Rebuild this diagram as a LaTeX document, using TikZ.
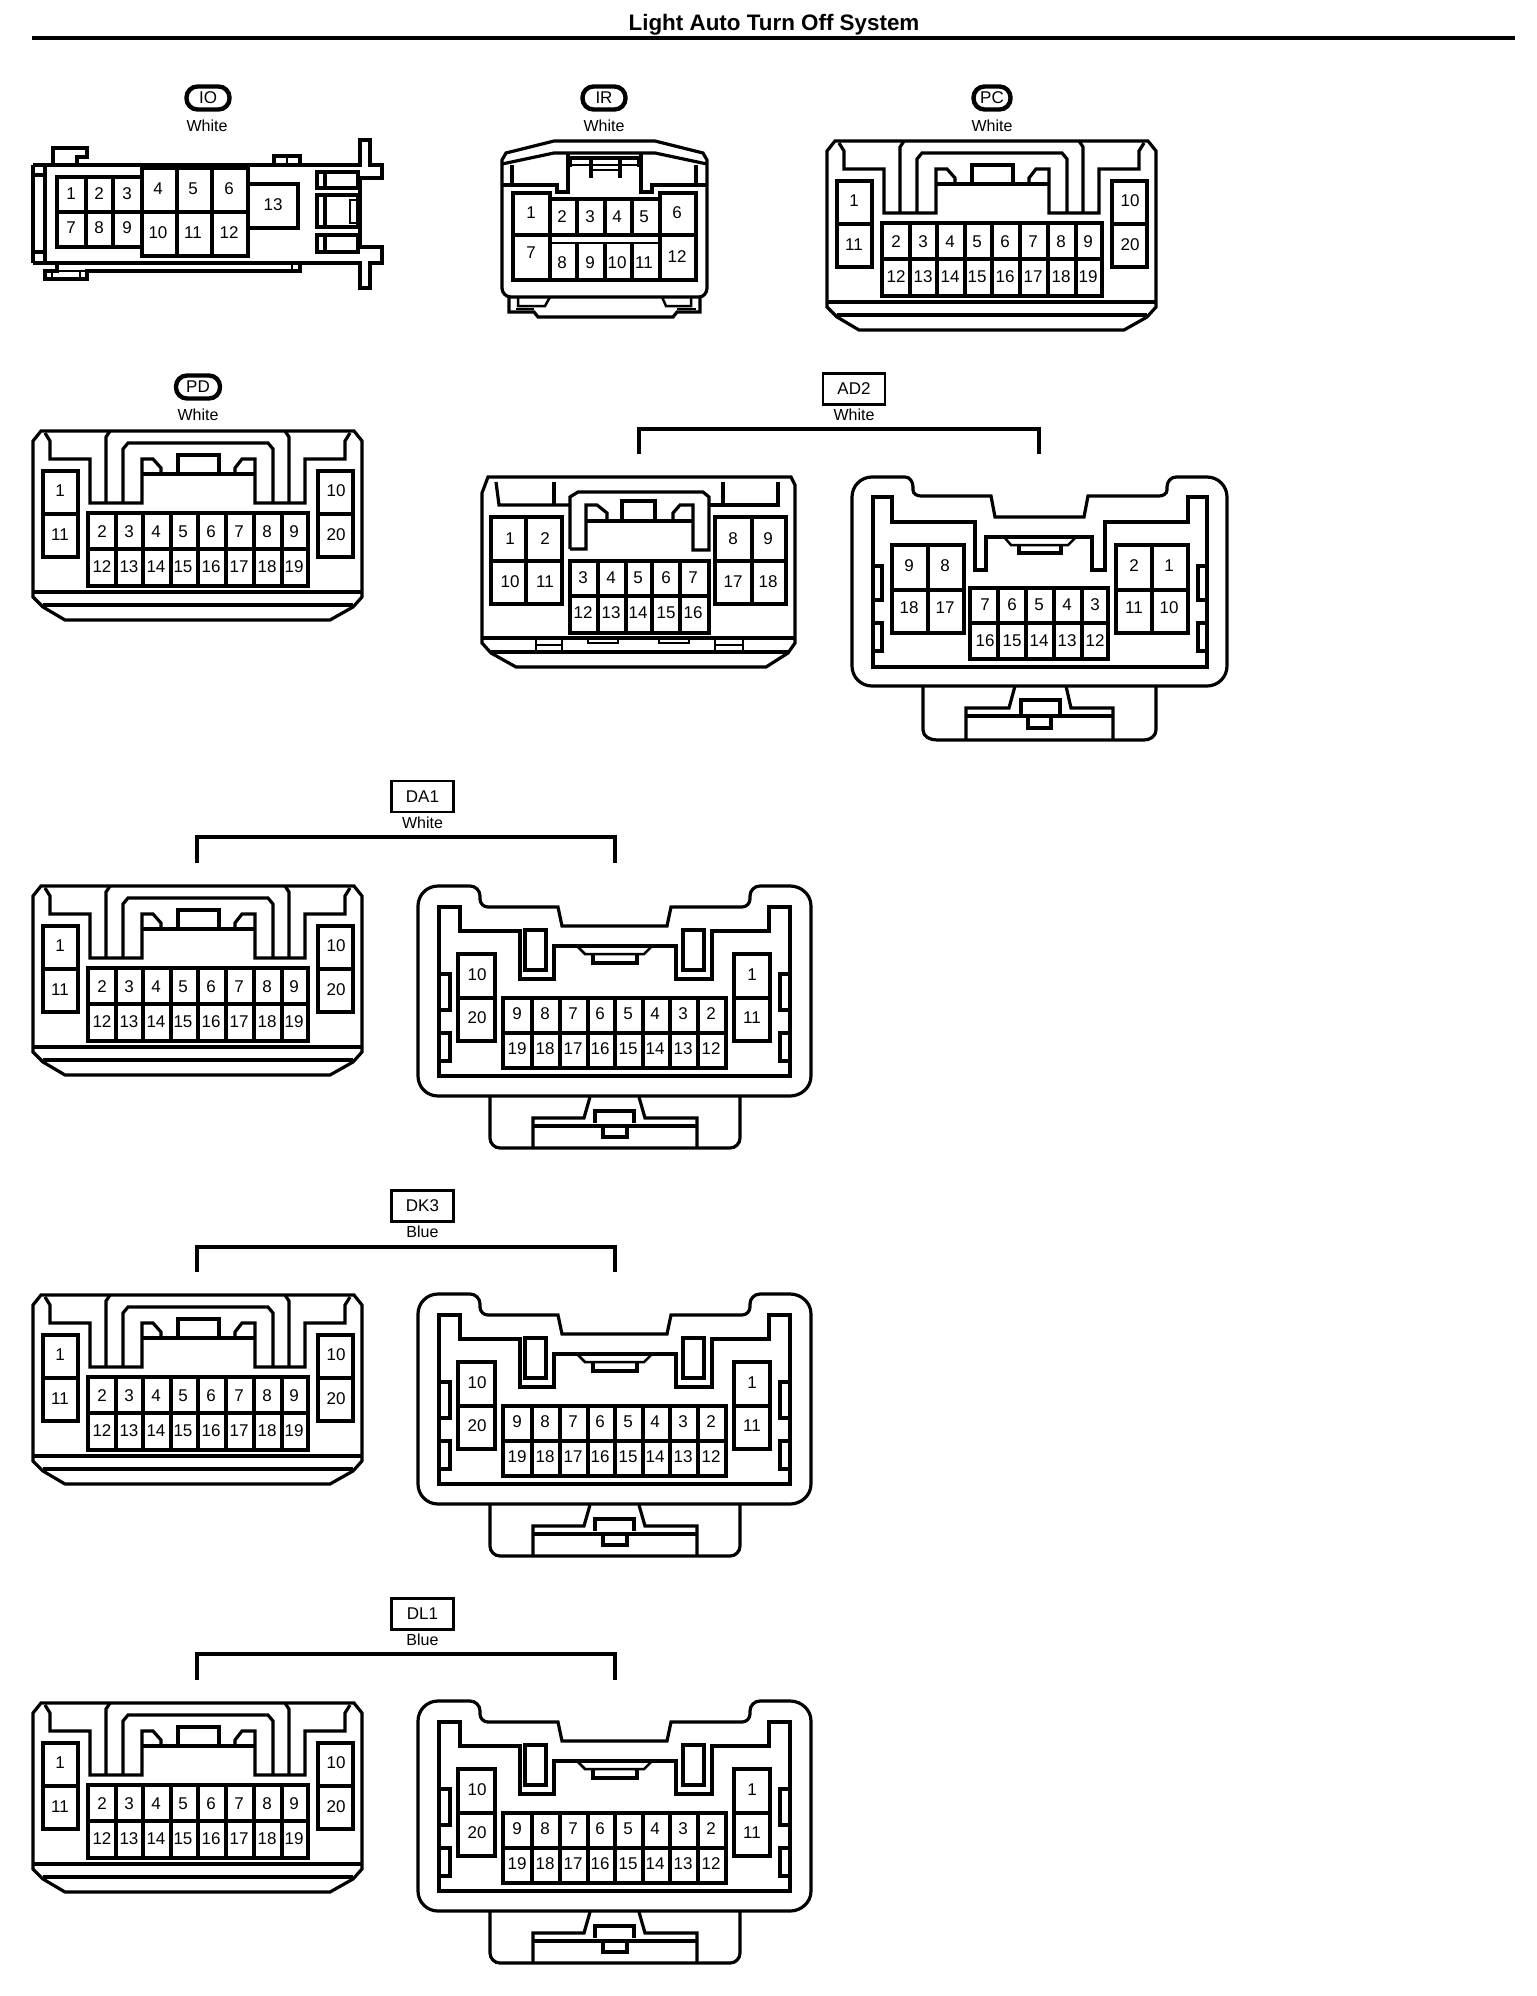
\documentclass[tikz,border=0pt]{standalone}
\usepackage{fontspec}
\setmainfont{Liberation Sans}
\tikzset{
  ln/.style={draw=black,line width=3.2pt,line join=miter},
  thn/.style={draw=black,line width=2.5pt},
  numt/.style={inner sep=0pt,font=\fontsize{17}{17}\selectfont},
  colt/.style={inner sep=0pt,font=\fontsize{16}{16}\selectfont},
  pill/.style={draw=black,line width=4.4pt,rounded corners=11pt,minimum height=23pt,inner sep=0pt,font=\fontsize{17}{17}\selectfont},
  tagbox/.style={draw=black,line width=2.8pt,minimum width=62pt,minimum height=31pt,inner sep=0pt,font=\fontsize{17}{17}\selectfont},
  brk/.style={draw=black,line width=3.6pt,line join=miter}
}
\newcommand{\nm}[3]{\node[numt] (\pfx-#3) at (#1,#2) {#3};}
% connector type A (origin: PD position)
\newcommand{\conA}[3]{\def\pfx{#1}\begin{scope}[shift={(#2,#3)}]
 \draw[ln] (33,441)--(41,431)--(354,431)--(362,441)--(362,597)--(353,607)--(330,620)--(65,620)--(43,607)--(33,597)--cycle;
 \draw[ln] (33,592)--(362,592);
 \draw[ln] (43,605)--(353,605);
 \draw[ln] (45,433)--(50,441)--(50,459)--(90,459)--(90,503)--(142,503)--(142,459)--(153,459)--(161,468)--(161,474);
 \draw[ln] (350,433)--(345,441)--(345,459)--(305,459)--(305,503)--(255,503)--(255,459)--(242,459)--(235,468)--(235,474);
 \draw[ln] (142,474)--(255,474);
 \draw[ln] (178,474)--(178,455)--(219,455)--(219,474);
 \draw[ln] (123,503)--(123,449)--(128,443)--(268,443)--(273,449)--(273,503);
 \draw[ln] (106,503)--(106,437)--(110,431);
 \draw[ln] (289,503)--(289,437)--(285,431);
 \draw[ln] (43,471) rectangle (78,557); \draw[ln] (43,514)--(78,514);
 \draw[ln] (318,471) rectangle (353,557); \draw[ln] (318,514)--(353,514);
 \draw[ln] (88,513) rectangle (308,586); \draw[ln] (88,549)--(308,549);
 \foreach \x in {116,143,171,198,226,254,282} \draw[ln] (\x,513)--(\x,586);
 \nm{60}{491}{1} \nm{60}{535}{11} \nm{336}{491}{10} \nm{336}{535}{20}
 \foreach \t/\x in {2/102,3/129,4/156,5/183,6/211,7/239,8/267,9/294} {\nm{\x}{532}{\t}}
 \foreach \t/\x in {12/102,13/129,14/156,15/183,16/211,17/239,18/267,19/294} {\nm{\x}{567}{\t}}
\end{scope}}
% connector type B (origin: DA1 right position)
\newcommand{\conB}[3]{\def\pfx{#1}\begin{scope}[shift={(#2,#3)}]
 \draw[ln] (418,905) to[out=90,in=180] (438,885)--(470,885) to[out=0,in=90] (480,895)--(480,898) to[out=270,in=180] (488,906)--(558,906)--(562,925)--(667,925)--(671,906)--(742,906) to[out=0,in=270] (750,898)--(750,895) to[out=90,in=180] (760,885)--(790,885) to[out=0,in=90] (811,905)--(811,1075) to[out=270,in=0] (790,1095)--(438,1095) to[out=180,in=270] (418,1075)--cycle;
 \draw[ln] (439,906)--(460,906)--(460,930)--(520,930)--(520,978)--(554,978)--(554,945)--(676,945)--(676,978)--(712,978)--(712,930)--(769,930)--(769,906)--(790,906)--(790,1075)--(439,1075)--cycle;
 \draw[ln] (525,929) rectangle (546,969);
 \draw[ln] (683,929) rectangle (704,969);
 \draw[thn] (577,945)--(585,953)--(644,953)--(652,945);
 \draw[ln] (593,953)--(593,962)--(637,962)--(637,953);
 \draw[ln] (439,973)--(450,973)--(450,1009)--(439,1009);
 \draw[ln] (439,1032)--(450,1032)--(450,1060)--(439,1060);
 \draw[ln] (790,973)--(780,973)--(780,1009)--(790,1009);
 \draw[ln] (790,1032)--(780,1032)--(780,1060)--(790,1060);
 \draw[ln] (458,953) rectangle (495,1040); \draw[ln] (458,997)--(495,997);
 \draw[ln] (734,953) rectangle (770,1040); \draw[ln] (734,997)--(770,997);
 \draw[ln] (503,997) rectangle (726,1067); \draw[ln] (503,1032)--(726,1032);
 \foreach \x in {532,560,588,615,643,670,698} \draw[ln] (\x,997)--(\x,1067);
 \nm{477}{974}{10} \nm{477}{1017}{20} \nm{752}{974}{1} \nm{752}{1017}{11}
 \foreach \t/\x in {9/517,8/545,7/573,6/600,5/628,4/655,3/683,2/711} {\nm{\x}{1013}{\t}}
 \foreach \t/\x in {19/517,18/545,17/573,16/600,15/628,14/655,13/683,12/711} {\nm{\x}{1048}{\t}}
 \draw[ln] (490,1095)--(490,1137) to[out=270,in=180] (500,1147)--(730,1147) to[out=0,in=270] (740,1137)--(740,1095);
 \draw[ln] (590,1096)--(584,1117)--(533,1117)--(533,1147);
 \draw[ln] (639,1096)--(645,1117)--(697,1117)--(697,1147);
 \draw[ln] (533,1125)--(697,1125);
 \draw[ln] (595,1122)--(595,1110)--(634,1110)--(634,1122);
 \draw[ln] (603,1125)--(603,1136)--(627,1136)--(627,1125);
\end{scope}}
\newcommand{\brkt}[7]{% name,xl,xr,ytop,ybot
 \coordinate (#1a) at (#2,#5); \coordinate (#1b) at (#2,#4);
 \coordinate (#1c) at (#3,#4); \coordinate (#1d) at (#3,#5);
 \draw[brk] (#1a)--(#1b)--(#1c)--(#1d);
 \node[tagbox] (#1tag) at (#6) {#1};
 \node[colt] (#1col) at ([yshift=-26pt]#1tag.center) {#7};}
\begin{document}
\begin{tikzpicture}[x=1pt,y=-1pt]
\useasboundingbox (0,0) rectangle (1536,1996);
\fill[white] (0,0) rectangle (1536,1996);
% title
\node[inner sep=0pt,font=\fontsize{22.4}{23}\selectfont\bfseries] (title) at (774,25) {Light Auto Turn Off System};
\coordinate (ruleL) at (32,38); \coordinate (ruleR) at (1515,38);
\draw[draw=black,line width=4.4pt] (ruleL)--(ruleR);
% IO
\node[pill,minimum width=43pt] (IOtag) at (208,98) {IO};
\node[colt] (IOcol) at (207,126) {White};
\def\pfx{io}
\draw[ln] (33,165)--(360,165)--(360,140)--(370,140)--(370,165)--(382,165)--(382,178)--(360,178)--(360,247)--(382,247)--(382,263)--(370,263)--(370,288)--(360,288)--(360,263)--(297,263);
\draw[ln] (297,263)--(33,263)--cycle;
\draw[ln] (33,165)--(33,263);
\draw[ln] (45,165)--(45,263);
\draw[ln] (33,175)--(45,175); \draw[ln] (33,252)--(45,252);
\draw[ln] (53,165)--(53,148)--(87,148)--(87,157)--(77,157)--(77,165);
\draw[ln] (274,165)--(274,156)--(300,156)--(300,165); \draw[thn] (287,156)--(287,165);
\draw[ln] (57,263)--(57,271)--(45,271)--(45,279)--(87,279)--(87,271)--(300,271)--(300,263);
\draw[thn] (57,271)--(87,271); \draw[thn] (52,271)--(52,279); \draw[thn] (80,271)--(80,279); \draw[thn] (292,263)--(292,271);
\draw[ln] (317,172) rectangle (358,188); \draw[ln] (325,172)--(325,188);
\draw[ln] (317,195) rectangle (358,227); \draw[ln] (325,195)--(325,227);
\draw[thn] (350,200) rectangle (357,223);
\draw[ln] (317,235) rectangle (358,252); \draw[ln] (325,235)--(325,252);
\draw[ln] (57,177) rectangle (142,247); \draw[ln] (57,212)--(142,212);
\draw[ln] (86,177)--(86,247); \draw[ln] (113,177)--(113,247);
\draw[ln] (142,168) rectangle (248,256); \draw[ln] (142,212)--(248,212);
\draw[ln] (177,168)--(177,256); \draw[ln] (212,168)--(212,256);
\draw[ln] (248,184) rectangle (298,228);
\foreach \t/\x/\y in {1/71/194,2/99/194,3/127/194,7/71/228,8/99/228,9/127/228,4/158/189,5/193/189,6/229/189,10/158/233,11/193/233,12/229/233,13/273/205} {\nm{\x}{\y}{\t}}
% IR
\node[pill,minimum width=43pt] (IRtag) at (604,98) {IR};
\node[colt] (IRcol) at (604,126) {White};
\def\pfx{ir}
\draw[ln] (502,160)--(506,153)--(554,141)--(655,141)--(703,153)--(707,160)--(707,288) to[out=270,in=0] (699,297)--(511,297) to[out=180,in=270] (502,288)--cycle;
\draw[ln] (502,164)--(554,153)--(655,153)--(707,164);
\draw[ln] (512,165)--(512,185); \draw[ln] (696,165)--(696,185);
\draw[ln] (502,185)--(557,185)--(557,192)--(568,192)--(568,153);
\draw[ln] (707,185)--(652,185)--(652,192)--(641,192)--(641,153);
\draw[ln] (570,167)--(570,158)--(639,158)--(639,167);
\draw[thn] (570,165)--(639,165);
\draw[ln] (591,178)--(591,160); \draw[ln] (620,178)--(620,160);
\draw[thn] (591,170)--(620,170);
\draw[ln] (509,297)--(509,312)--(534,312)--(538,317)--(673,317)--(677,312)--(700,312)--(700,297);
\draw[thn] (518,297)--(518,306)--(545,306)--(550,297);
\draw[thn] (516,309)--(534,309);
\draw[thn] (691,297)--(691,306)--(666,306)--(662,297);
\draw[thn] (677,309)--(696,309);
\draw[ln] (513,193) rectangle (550,280); \draw[ln] (513,235)--(550,235);
\draw[ln] (660,193) rectangle (696,280); \draw[ln] (660,235)--(696,235);
\draw[ln] (550,199)--(660,199); \draw[ln] (550,235)--(660,235); \draw[thn] (550,243)--(660,243); \draw[ln] (550,280)--(660,280);
\foreach \x in {577,605,632} {\draw[ln] (\x,199)--(\x,235); \draw[ln] (\x,243)--(\x,280);}
\foreach \t/\x/\y in {1/531/213,7/531/253,2/562/217,3/590/217,4/617/217,5/644/217,6/677/213,12/677/257,8/562/263,9/590/263,10/617/263,11/644/263} {\nm{\x}{\y}{\t}}
% PC, PD
\node[pill,minimum width=37pt] (PCtag) at (992,98) {PC};
\node[colt] (PCcol) at (992,126) {White};
\conA{pc}{794}{-290}
\node[pill,minimum width=44pt] (PDtag) at (198,387) {PD};
\node[colt] (PDcol) at (198,415) {White};
\conA{pd}{0}{0}
% AD2
\brkt{AD2}{639}{1039}{429}{454}{854,389}{White}
\begin{scope}[shift={(1,0)}]
\def\pfx{adl}
\draw[ln] (481,493)--(487,477)--(790,477)--(794,485)--(794,643)--(787,653)--(765,667)--(515,667)--(490,653)--(481,643)--cycle;
\draw[ln] (481,638)--(794,638); \draw[ln] (490,652)--(787,652);
\draw[ln] (495,482)--(498,505)--(569,505); \draw[ln] (553,482)--(553,505);
\draw[ln] (777,482)--(777,505)--(708,505); \draw[ln] (722,482)--(722,505);
\draw[ln] (569,549)--(569,497)--(577,492)--(702,492)--(708,497)--(708,550)--(692,550)--(692,505)--(679,505)--(672,513)--(672,521);
\draw[ln] (569,549)--(585,549)--(585,505)--(596,505)--(606,513)--(606,521);
\draw[ln] (585,521)--(692,521);
\draw[ln] (621,521)--(621,501)--(654,501)--(654,521);
\draw[thn] (535,638)--(535,652); \draw[thn] (561,638)--(561,652); \draw[thn] (535,645)--(561,645);
\draw[thn] (714,638)--(714,652); \draw[thn] (742,638)--(742,652); \draw[thn] (714,645)--(742,645);
\draw[thn] (587,638)--(587,643)--(617,643)--(617,638);
\draw[thn] (658,638)--(658,643)--(688,643)--(688,638);
\draw[ln] (490,517) rectangle (561,604); \draw[ln] (490,561)--(561,561); \draw[ln] (525,517)--(525,604);
\draw[ln] (714,517) rectangle (785,604); \draw[ln] (714,561)--(785,561); \draw[ln] (751,517)--(751,604);
\draw[ln] (569,561) rectangle (708,633); \draw[ln] (569,596)--(708,596);
\foreach \x in {597,625,651,679} \draw[ln] (\x,561)--(\x,633);
\foreach \t/\x/\y in {1/509/539,2/544/539,10/509/582,11/544/582,8/732/539,9/767/539,17/732/582,18/767/582,3/582/578,4/610/578,5/637/578,6/665/578,7/692/578,12/582/613,13/610/613,14/637/613,15/665/613,16/692/613} {\nm{\x}{\y}{\t}}
\end{scope}
\begin{scope}[shift={(1,0)}]
\def\pfx{adr}
\draw[ln] (851,497) to[out=90,in=180] (871,477)--(904,477) to[out=0,in=90] (912,487)--(912,490) to[out=270,in=180] (920,496)--(990,496)--(994,517)--(1083,517)--(1087,496)--(1158,496) to[out=0,in=270] (1166,490)--(1166,487) to[out=90,in=180] (1175,477)--(1206,477) to[out=0,in=90] (1226,497)--(1226,666) to[out=270,in=0] (1206,686)--(871,686) to[out=180,in=270] (851,666)--cycle;
\draw[ln] (872,497)--(891,497)--(891,522)--(974,522)--(974,570)--(985,570)--(985,537)--(1091,537)--(1091,570)--(1104,570)--(1104,522)--(1187,522)--(1187,497)--(1206,497)--(1206,667)--(872,667)--cycle;
\draw[thn] (1003,537)--(1010,545)--(1067,545)--(1075,537);
\draw[ln] (1018,545)--(1018,553)--(1060,553)--(1060,545);
\draw[ln] (872,566)--(881,566)--(881,600)--(872,600);
\draw[ln] (872,623)--(881,623)--(881,651)--(872,651);
\draw[ln] (1206,566)--(1197,566)--(1197,600)--(1206,600);
\draw[ln] (1206,623)--(1197,623)--(1197,651)--(1206,651);
\draw[ln] (891,545) rectangle (963,633); \draw[ln] (891,590)--(963,590); \draw[ln] (927,545)--(927,633);
\draw[ln] (1115,545) rectangle (1187,633); \draw[ln] (1115,590)--(1187,590); \draw[ln] (1151,545)--(1151,633);
\draw[ln] (969,588) rectangle (1107,659); \draw[ln] (969,623)--(1107,623);
\foreach \x in {997,1025,1053,1081} \draw[ln] (\x,588)--(\x,659);
\foreach \t/\x/\y in {9/908/566,8/944/566,18/908/608,17/944/608,2/1133/566,1/1168/566,11/1133/608,10/1168/608,7/984/605,6/1011/605,5/1038/605,4/1066/605,3/1094/605,16/984/641,15/1011/641,14/1038/641,13/1066/641,12/1094/641} {\nm{\x}{\y}{\t}}
\draw[ln] (922,686)--(922,730) to[out=270,in=180] (936,740)--(1143,740) to[out=0,in=270] (1155,730)--(1155,686);
\draw[ln] (1014,686)--(1008,708)--(965,708)--(965,740);
\draw[ln] (1065,686)--(1070,708)--(1112,708)--(1112,740);
\draw[ln] (965,716)--(1112,716);
\draw[ln] (1020,715)--(1020,700)--(1059,700)--(1059,715);
\draw[ln] (1027,716)--(1027,728)--(1050,728)--(1050,716);
\end{scope}
% DA1
\brkt{DA1}{197}{615}{837}{863}{422.5,796.5}{White}
\conA{daa}{0}{455}
\conB{dab}{0}{1}
% DK3
\brkt{DK3}{197}{615}{1247}{1272}{422.5,1206}{Blue}
\conA{dka}{0}{864}
\conB{dkb}{0}{409}
% DL1
\brkt{DL1}{197}{615}{1654}{1680}{422.5,1614}{Blue}
\conA{dla}{0}{1272}
\conB{dlb}{0}{816}
\end{tikzpicture}
\end{document}
